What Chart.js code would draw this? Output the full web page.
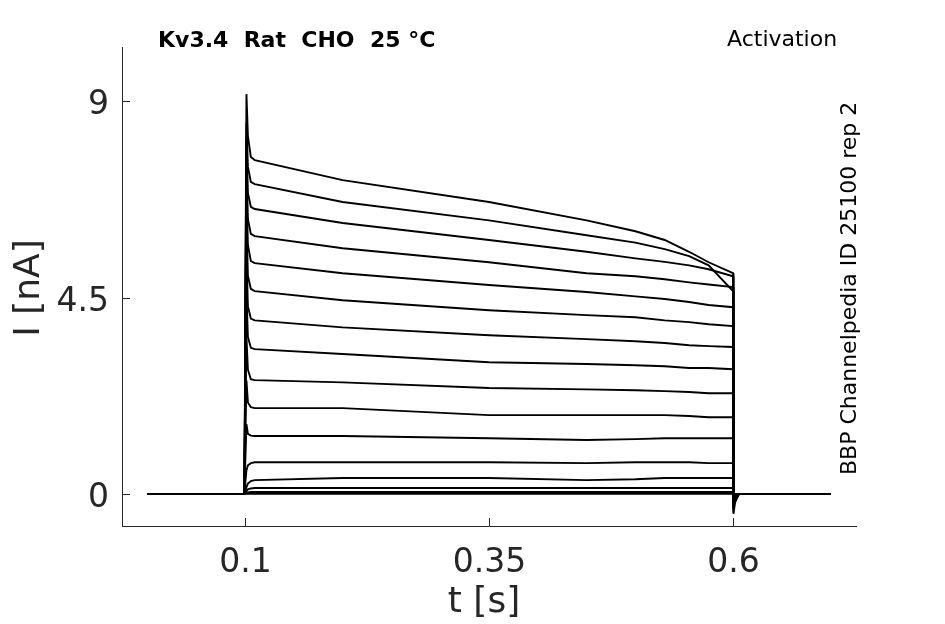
<!DOCTYPE html>
<html>
<head>
<meta charset="utf-8">
<script src="https://cdn.jsdelivr.net/npm/chart.js@4.4.1/dist/chart.umd.min.js"></script>
<style>
  html, body { margin: 0; padding: 0; background: #fff; }
  #wrap { width: 945px; height: 624px; }
</style>
</head>
<body>
<div id="wrap"><canvas id="traces" width="945" height="624"></canvas></div>
<script>
// sample times (s) shared by all sweeps
var times = [0, 0.0995, 0.1005, 0.1015, 0.103, 0.106, 0.11, 0.2, 0.35, 0.45, 0.5, 0.53, 0.555, 0.575, 0.6, 0.6005, 0.602, 0.606, 0.7];

// current (nA) of each activation sweep
var sweep01 = [0, 0, 5.0, 9.16, 8.2, 7.72, 7.65, 7.19, 6.69, 6.27, 6.02, 5.82, 5.55, 5.31, 5.06, -0.45, -0.2, 0, 0];
var sweep02 = [0, 0, 4.5, 8.5, 7.5, 7.15, 7.10, 6.69, 6.27, 5.93, 5.76, 5.61, 5.45, 5.24, 4.65, -0.35, -0.15, 0, 0];
var sweep03 = [0, 0, 4.2, 8.1, 6.9, 6.58, 6.53, 6.21, 5.82, 5.55, 5.40, 5.32, 5.24, 5.15, 4.99, -0.3, -0.12, 0, 0];
var sweep04 = [0, 0, 4.0, 7.6, 6.3, 5.96, 5.91, 5.63, 5.31, 5.06, 4.99, 4.92, 4.85, 4.80, 4.74, -0.25, -0.1, 0, 0];
var sweep05 = [0, 0, 3.8, 7.0, 5.7, 5.34, 5.29, 5.06, 4.79, 4.63, 4.53, 4.47, 4.40, 4.33, 4.28, -0.2, -0.08, 0, 0];
var sweep06 = [0, 0, 3.5, 6.3, 5.0, 4.7, 4.65, 4.44, 4.21, 4.10, 4.05, 3.98, 3.94, 3.89, 3.85, -0.18, -0.06, 0, 0];
var sweep07 = [0, 0, 3.2, 5.5, 4.3, 4.02, 3.98, 3.82, 3.64, 3.55, 3.50, 3.46, 3.41, 3.39, 3.37, -0.15, -0.05, 0, 0];
var sweep08 = [0, 0, 2.8, 4.6, 3.6, 3.35, 3.32, 3.21, 3.02, 2.98, 2.95, 2.93, 2.89, 2.89, 2.86, -0.12, -0.04, 0, 0];
var sweep09 = [0, 0, 2.2, 3.6, 2.85, 2.63, 2.61, 2.56, 2.43, 2.40, 2.38, 2.36, 2.34, 2.31, 2.31, -0.1, -0.03, 0, 0];
var sweep10 = [0, 0, 1.5, 2.6, 2.1, 1.99, 1.97, 1.97, 1.81, 1.81, 1.81, 1.81, 1.79, 1.76, 1.76, -0.08, -0.02, 0, 0];
var sweep11 = [0, 0, 0.9, 1.6, 1.38, 1.34, 1.33, 1.33, 1.28, 1.24, 1.26, 1.28, 1.28, 1.28, 1.28, -0.06, -0.02, 0, 0];
var sweep12 = [0, 0, 0.3, 0.55, 0.66, 0.71, 0.73, 0.73, 0.73, 0.71, 0.73, 0.73, 0.73, 0.71, 0.71, -0.04, 0, 0, 0];
var sweep13 = [0, 0, 0.08, 0.16, 0.24, 0.3, 0.32, 0.37, 0.37, 0.32, 0.34, 0.37, 0.37, 0.37, 0.37, -0.02, 0, 0, 0];
var sweep14 = [0, 0, 0.03, 0.07, 0.11, 0.13, 0.14, 0.14, 0.14, 0.14, 0.14, 0.14, 0.14, 0.14, 0.14, 0, 0, 0, 0];
var sweep15 = [0, 0, 0.01, 0.03, 0.04, 0.05, 0.05, 0.05, 0.05, 0.05, 0.05, 0.05, 0.05, 0.05, 0.05, 0, 0, 0, 0];
var sweep16 = [0, 0, 0, 0.01, 0.01, 0.01, 0.01, 0.01, 0.01, 0.01, 0.01, 0.01, 0.01, 0.01, 0.01, 0, 0, 0, 0];

var sweeps = [sweep01, sweep02, sweep03, sweep04, sweep05, sweep06, sweep07, sweep08,
              sweep09, sweep10, sweep11, sweep12, sweep13, sweep14, sweep15, sweep16];

var xTicks = [0.1, 0.35, 0.6];
var yTicks = [0, 4.5, 9];

var titleText = 'Kv3.4  Rat  CHO  25 \u00B0C';
var protocolText = 'Activation';
var sourceText = 'BBP Channelpedia ID 25100 rep 2';

var FONT = '"DejaVu Sans", sans-serif';
var INK = '#262626';

function makePoints(ys) {
    return times.map(function (t, i) {
        return { x: t, y: ys[i] };
    });
}

// inward tick marks, tick labels and the free text around the axes
var decorations = {
    id: 'decorations',
    afterDraw: function (chart) {
        var ctx = chart.ctx;
        var area = chart.chartArea;
        var xs = chart.scales.x, ys = chart.scales.y;
        ctx.save();
        ctx.strokeStyle = INK;
        ctx.fillStyle = INK;
        ctx.lineWidth = 1;
        ctx.font = '33px ' + FONT;
        ctx.textBaseline = 'alphabetic';

        ctx.textAlign = 'center';
        xTicks.forEach(function (v) {
            var px = Math.round(xs.getPixelForValue(v)) + 0.5;
            ctx.beginPath();
            ctx.moveTo(px, area.bottom);
            ctx.lineTo(px, area.bottom - 8);
            ctx.stroke();
            ctx.fillText(String(v), px, 572);
        });
        ctx.textAlign = 'right';
        yTicks.forEach(function (v) {
            var py = Math.round(ys.getPixelForValue(v)) + 0.5;
            ctx.beginPath();
            ctx.moveTo(area.left, py);
            ctx.lineTo(area.left + 8, py);
            ctx.stroke();
            ctx.fillText(String(v), 109, py + 12);
        });

        ctx.font = '36px ' + FONT;
        ctx.textAlign = 'center';
        ctx.textBaseline = 'middle';
        ctx.fillText('t [s]', 484, 603);
        ctx.save();
        ctx.translate(30, 288);
        ctx.rotate(-Math.PI / 2);
        ctx.fillText('I [nA]', 0, 0);
        ctx.restore();

        ctx.fillStyle = '#000';
        ctx.textBaseline = 'alphabetic';
        ctx.textAlign = 'left';
        ctx.font = 'bold 22px ' + FONT;
        ctx.fillText(titleText, 158, 47);
        ctx.font = '22px ' + FONT;
        ctx.fillText(protocolText, 727, 46);

        ctx.save();
        ctx.translate(856, 475);
        ctx.rotate(-Math.PI / 2);
        ctx.fillText(sourceText, 0, 0);
        ctx.restore();
        ctx.restore();
    }
};

var ctx = document.getElementById('traces').getContext('2d');
var traceChart = new Chart(ctx, {
    type: 'line',
    data: {
        datasets: sweeps.map(function (s) {
            return {
                data: makePoints(s),
                borderColor: '#000',
                borderWidth: 1.9,
                pointRadius: 0,
                fill: false,
                tension: 0
            };
        })
    },
    options: {
        responsive: false,
        animation: false,
        devicePixelRatio: 1,
        events: [],
        layout: {
            padding: { left: 0, top: 47, right: 89, bottom: 0 }
        },
        scales: {
            x: {
                type: 'linear',
                min: -0.026,
                max: 0.726,
                afterFit: function (scale) { scale.height = 98; },
                grid: { display: false, drawTicks: false },
                border: { display: true, color: INK, width: 1 },
                ticks: { display: false }
            },
            y: {
                type: 'linear',
                min: -0.73,
                max: 10.24,
                afterFit: function (scale) { scale.width = 122; },
                grid: { display: false, drawTicks: false },
                border: { display: true, color: INK, width: 1 },
                ticks: { display: false }
            }
        },
        plugins: {
            legend: { display: false },
            tooltip: { enabled: false },
            title: { display: false }
        }
    },
    plugins: [decorations]
});
</script>
</body>
</html>
